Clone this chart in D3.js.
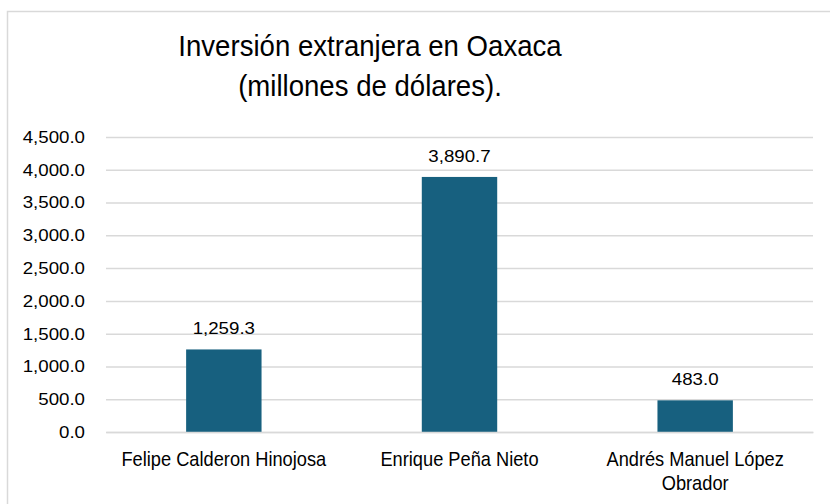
<!DOCTYPE html>
<html><head><meta charset="utf-8">
<script src="https://cdn.jsdelivr.net/npm/d3@7"></script>
<style>
body{margin:0;background:#fff;}
svg{display:block;}
</style></head><body>
<svg id="c" width="830" height="504"></svg>
<script>
const categories = ["Felipe Calderon Hinojosa", "Enrique Peña Nieto", "Andrés Manuel López Obrador"];
const values = [1259.3, 3890.7, 483.0];
const yTicks = [0, 500, 1000, 1500, 2000, 2500, 3000, 3500, 4000, 4500];
const titleLines = ["Inversión extranjera en Oaxaca", "(millones de dólares)."];

const svg = d3.select("#c");
const font = "'Liberation Sans', Arial, Helvetica, sans-serif";
const squeeze = (sel, s) => sel.attr("transform", function(){
  const cx = +d3.select(this).attr("x");
  return `translate(${cx},0) scale(${s},1) translate(${-cx},0)`;
});

// container border
svg.append("path").attr("d","M7.5,504 V11.5 H830").attr("fill","none").attr("stroke","#d9d9d9").attr("stroke-width",1.5);

const x = d3.scaleBand().domain(categories).range([106, 813]).paddingInner(0.68).paddingOuter(0.34);
const y = d3.scaleLinear().domain([0, 4500]).range([432, 137]);

// gridlines + y labels
const yAxis = d3.axisLeft(y).tickValues(yTicks).tickSize(-(813-106)).tickPadding(21)
  .tickFormat(d3.format(",.1f"));
const gy = svg.append("g").attr("transform","translate(106,0)").call(yAxis);
gy.select(".domain").remove();
gy.selectAll(".tick line").attr("stroke","#d9d9d9").attr("stroke-width",1.5);
gy.selectAll(".tick text").attr("fill","#000").style("font-family",font).style("font-size","17px")
  .call(squeeze, 1.1);

// bars
svg.append("g").selectAll("rect").data(values).join("rect")
  .attr("x",(d,i)=>x(categories[i]))
  .attr("width",x.bandwidth())
  .attr("y",d=>y(d))
  .attr("height",d=>y(0)-y(d))
  .attr("fill","#17607f");

// baseline axis
const xAxis = d3.axisBottom(x).tickSize(0).tickPadding(0);
const gx = svg.append("g").attr("transform","translate(0,432)").call(xAxis);
gx.select(".domain").attr("stroke","#d9d9d9").attr("stroke-width",1.5);
gx.selectAll(".tick text").remove();

// category labels (wrapped)
const wrap = {"Andrés Manuel López Obrador":["Andrés Manuel López","Obrador"]};
svg.append("g").selectAll("text").data(categories).join("text")
  .attr("x",d=>x(d)+x.bandwidth()/2)
  .attr("y",466.5)
  .attr("text-anchor","middle")
  .style("font-family",font).style("font-size","20.5px").attr("fill","#000")
  .each(function(d){
    const lines = wrap[d] || [d];
    const t = d3.select(this);
    lines.forEach((l,i)=>t.append("tspan").attr("x",x(d)+x.bandwidth()/2).attr("dy",i?24:0).text(l));
  })
  .call(squeeze, 0.89);

// data labels
svg.append("g").selectAll("text").data(values).join("text")
  .attr("x",(d,i)=>x(categories[i])+x.bandwidth()/2)
  .attr("y",d=>y(d)-15)
  .attr("text-anchor","middle")
  .style("font-family",font).style("font-size","17px")
  .attr("fill","#000")
  .text(d=>d3.format(",.1f")(d))
  .call(squeeze, 1.1);

// title
svg.append("g").selectAll("text").data(titleLines).join("text")
  .attr("x",370).attr("y",(d,i)=>56+i*40)
  .attr("text-anchor","middle")
  .style("font-family",font).style("font-size","30px").attr("fill","#000")
  .text(d=>d)
  .call(squeeze, 0.92);
</script>
</body></html>
